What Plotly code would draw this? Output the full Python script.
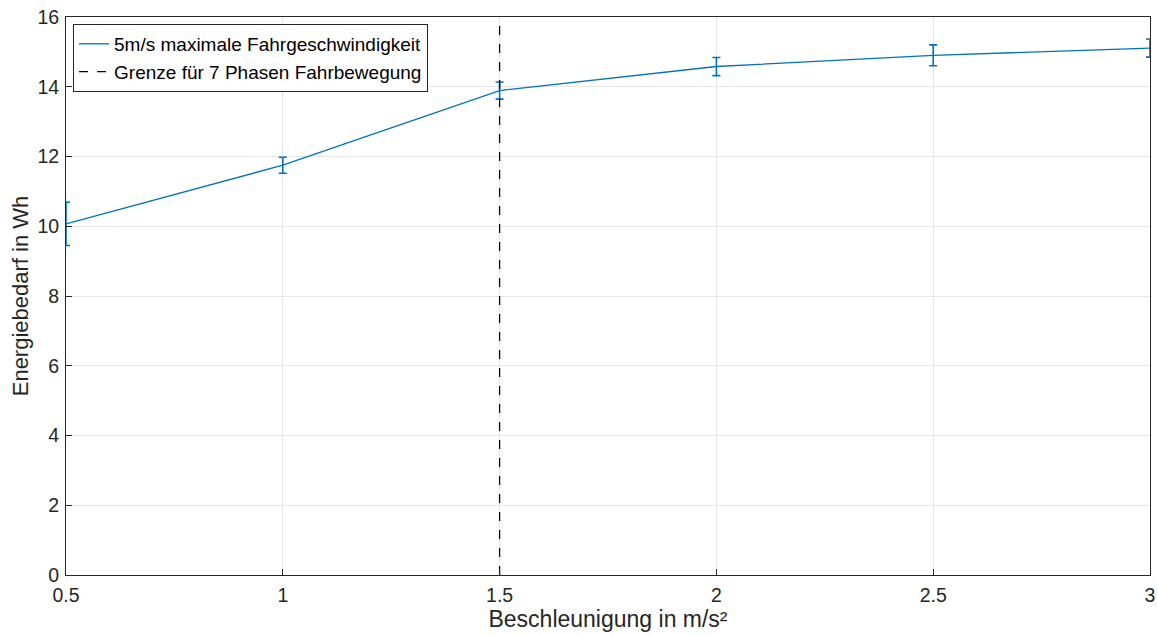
import plotly.graph_objects as go

# Beschleunigung (m/s²) und gemessener Energiebedarf (Wh) mit Streuung
beschleunigung = [0.5, 1.0, 1.5, 2.0, 2.5, 3.0]
energie = [10.07, 11.75, 13.89, 14.58, 14.90, 15.11]
streuung = [0.62, 0.23, 0.245, 0.26, 0.30, 0.26]

grenze_x = 1.5
y_bereich = [0, 16]

x_ticks = [0.5, 1, 1.5, 2, 2.5, 3]
x_ticktext = ["0.5", "1", "1.5", "2", "2.5", "3"]
y_ticks = [0, 2, 4, 6, 8, 10, 12, 14, 16]

blau = "#0072BD"
textfarbe = "#262626"
font_family = "Liberation Sans, Arial, sans-serif"

fig = go.Figure()

fig.add_trace(go.Scatter(
    x=beschleunigung, y=energie,
    mode="lines",
    name="5m/s maximale Fahrgeschwindigkeit",
    line=dict(color=blau, width=1.3),
    error_y=dict(type="data", array=streuung, visible=True,
                 color=blau, thickness=1.6, width=4),
))

fig.add_trace(go.Scatter(
    x=[grenze_x, grenze_x], y=y_bereich,
    mode="lines",
    name="Grenze für 7 Phasen Fahrbewegung",
    line=dict(color="#000000", width=1.3, dash="dash"),
))

achse = dict(
    showline=True, linecolor="#262626", linewidth=1, mirror=True,
    ticks="inside", ticklen=6, tickcolor="#262626",
    showgrid=True, gridcolor="#e6e6e6", gridwidth=1,
    zeroline=False, automargin=False,
    tickfont=dict(size=19.5, color=textfarbe, family=font_family),
)

fig.update_layout(
    width=1157, height=635,
    margin=dict(l=66, r=7, t=17, b=60),
    paper_bgcolor="white", plot_bgcolor="white",
    font=dict(family=font_family, color=textfarbe),
    xaxis=dict(range=[0.5, 3], tickvals=x_ticks, ticktext=x_ticktext,
               ticklabelstandoff=3,
               title=dict(text="Beschleunigung in m/s²", standoff=5,
                          font=dict(size=23, color=textfarbe)),
               **achse),
    yaxis=dict(range=y_bereich, tickvals=y_ticks,
               ticklabelstandoff=2,
               title=dict(text="Energiebedarf in Wh", standoff=2,
                          font=dict(size=22, color=textfarbe)),
               **achse),
    legend=dict(
        x=0.0065, y=0.9875, xanchor="left", yanchor="top",
        bgcolor="white", bordercolor="#262626", borderwidth=1,
        font=dict(size=19, color="#000000", family=font_family),
        tracegroupgap=0, itemwidth=30,
    ),
    showlegend=True,
)

fig.write_html("out.html")
